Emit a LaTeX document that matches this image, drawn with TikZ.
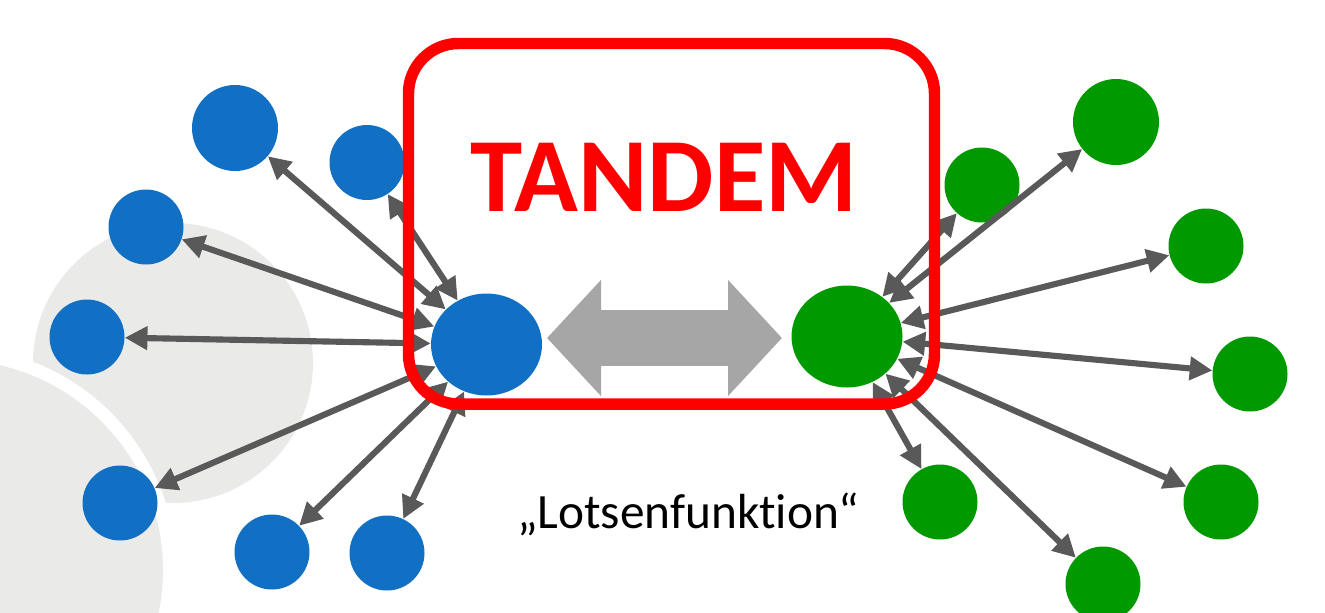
\documentclass[tikz,border=0pt]{standalone}
\usepackage{fontspec}
\setmainfont{Carlito}[Ligatures=NoCommon]
\usetikzlibrary{arrows.meta,shapes.geometric}
\definecolor{nodeblue}{RGB}{17,112,196}
\definecolor{nodegreen}{RGB}{0,153,0}
\definecolor{linkgray}{RGB}{89,89,89}
\definecolor{bggray}{RGB}{234,235,232}
\definecolor{arrowgray}{RGB}{166,166,166}
\definecolor{framered}{RGB}{255,0,0}
\begin{document}
\begin{tikzpicture}[x=0.75pt,y=-0.75pt,
  hub/.style={ellipse, inner sep=0, minimum width=83.25pt, minimum height=76.5pt},
  bluehub/.style={hub, fill=nodeblue},
  greenhub/.style={hub, fill=nodegreen},
  leaf/.style={circle, inner sep=0, minimum size=56.25pt},
  bigleaf/.style={circle, inner sep=0, minimum size=64.5pt},
  bleaf/.style={leaf, fill=nodeblue},
  gleaf/.style={leaf, fill=nodegreen},
  bbig/.style={bigleaf, fill=nodeblue},
  gbig/.style={bigleaf, fill=nodegreen},
  link/.style={draw=linkgray, line width=4.6pt, {Triangle[length=17pt,width=17pt]}-{Triangle[length=17pt,width=17pt]}},
  bigarrow/.style={draw=arrowgray, line width=42pt, {Triangle[length=40.5pt,width=84.75pt]}-{Triangle[length=40.5pt,width=84.75pt]}},
  frame/.style={draw=framered, line width=8.6pt, rounded corners=37.5pt, inner sep=0, minimum width=394.5pt, minimum height=270.4pt},
]
\useasboundingbox (0,0) rectangle (1325,612);
\clip (0,0) rectangle (1325,612);
% background shapes
\fill[bggray] (173,363) circle[radius=140];
\fill[white] (-47,570) circle[radius=223];
\fill[bggray] (-47,570) circle[radius=210];
% hubs
\node[bluehub] (cb) at (486.5,344.5) {};
\node[greenhub] (cg) at (847,336.5) {};
% blue leaves
\node[bbig] (b1) at (235,128) {};
\node[bleaf] (b2) at (367,162.5) {};
\node[bleaf] (b3) at (146,227) {};
\node[bleaf] (b4) at (87,337) {};
\node[bleaf] (b5) at (120,503) {};
\node[bleaf] (b6) at (272,552) {};
\node[bleaf] (b7) at (387,553) {};
% green leaves
\node[gbig] (g1) at (1116,122) {};
\node[gleaf] (g2) at (982,185) {};
\node[gleaf] (g3) at (1206,246) {};
\node[gleaf] (g4) at (1250,374) {};
\node[gleaf] (g5) at (1221,502) {};
\node[gleaf] (g6) at (940,502) {};
\node[gleaf] (g7) at (1103,584) {};
% links
\foreach \n in {b1,b2,b3,b4,b5,b6,b7}{\draw[link] (cb) -- (\n);}
\foreach \n in {g1,g2,g3,g4,g5,g6,g7}{\draw[link] (cg) -- (\n);}
% tandem arrow
\coordinate (al) at (547,338);
\coordinate (ar) at (782,338);
\draw[bigarrow] (al) -- (ar);
% frame and texts
\node[frame] (box) at (671.5,223.75) {};
\node[text=framered, font=\fontsize{79}{81}\selectfont\bfseries, anchor=base, inner sep=0] (tandem) at (664,211) {TANDEM};
\node[font=\fontsize{37}{40}\selectfont, anchor=base, inner sep=0] (lotse) at (688,528) {„Lotsenfunktion“};
\end{tikzpicture}
\end{document}
